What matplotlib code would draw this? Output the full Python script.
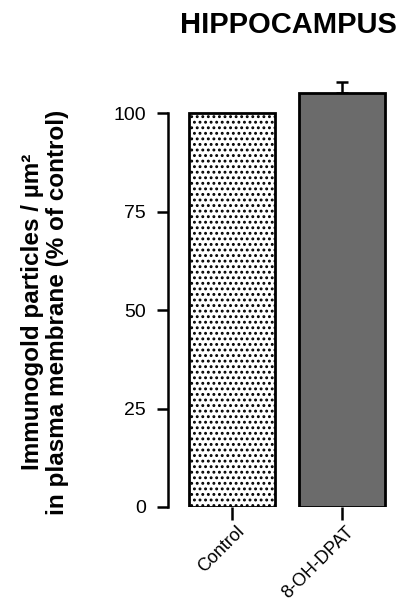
import matplotlib
matplotlib.use("Agg")
import matplotlib.pyplot as plt
from matplotlib.transforms import ScaledTranslation

plt.rcParams['font.family'] = ['Liberation Sans', 'DejaVu Sans']
plt.rcParams['hatch.linewidth'] = 1.3
plt.rcParams['hatch.color'] = '#1a1a1a'

groups = ["Control", "8-OH-DPAT"]
means = [100, 105]
errors = [0, 3]
yticks = [0, 25, 50, 75, 100]

fig = plt.figure(figsize=(4.0, 6.06), dpi=100)
ax = fig.add_axes([0.42, 0.1634, 0.5675, 0.7475])

x = [0, 1]
ax.bar(x[0], means[0], width=0.78, color='white', edgecolor='black',
       linewidth=2.0, hatch='...', zorder=2)
ax.bar(x[1], means[1], width=0.78, color='#6b6b6b', edgecolor='black',
       linewidth=2.0, zorder=2)
ax.errorbar(x[1], means[1], yerr=[[0], [errors[1]]], fmt='none',
            ecolor='black', elinewidth=1.8, capsize=4, capthick=1.8, zorder=1)

ax.set_xlim(-0.58, 1.48)
ax.set_ylim(0, 115)
ax.spines['top'].set_visible(False)
ax.spines['right'].set_visible(False)
ax.spines['bottom'].set_visible(False)
ax.spines['left'].set_bounds(0, 100)
ax.spines['left'].set_linewidth(1.8)

ax.set_yticks(yticks)
ax.set_yticklabels([str(v) for v in yticks], fontsize=14)
ax.tick_params(axis='y', length=8, width=1.8, pad=8)
ax.set_xticks(x)
ax.set_xticklabels(groups, fontsize=13, rotation=45, ha='right',
                   va='center', rotation_mode='anchor')
ax.tick_params(axis='x', length=9, width=1.8, pad=7)
shift = ScaledTranslation(7 / 72, 0, fig.dpi_scale_trans)
for lbl in ax.get_xticklabels():
    lbl.set_transform(lbl.get_transform() + shift)

fig.text(0.72, 0.959, "HIPPOCAMPUS", fontsize=21, fontweight='bold',
         ha='center', va='center')
fig.text(0.112, 0.485, "Immunogold particles / µm²\nin plasma membrane (% of control)",
         fontsize=17.5, fontweight='bold', rotation=90, ha='center',
         va='center', multialignment='center', linespacing=1.12)

fig.savefig("out.png", dpi=100)
